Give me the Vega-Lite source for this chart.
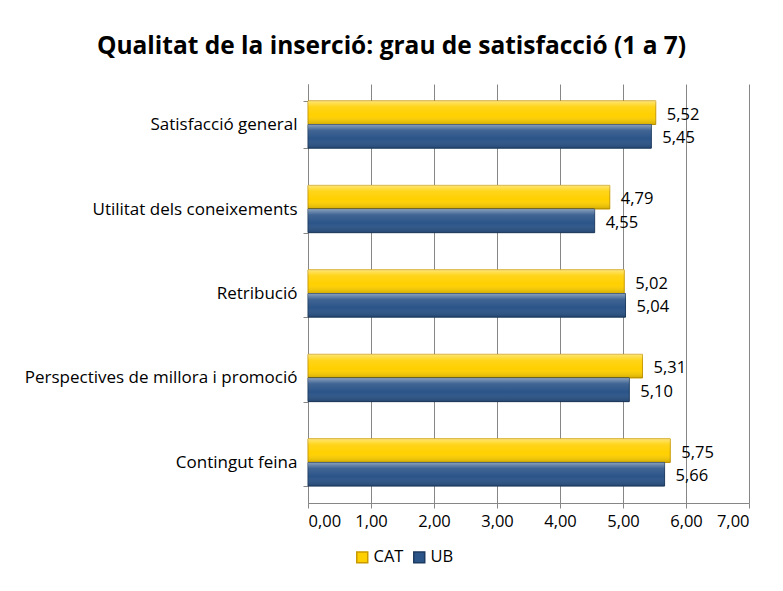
{
  "$schema": "https://vega.github.io/schema/vega-lite/v6.json",
  "width": 441,
  "height": 419,
  "autosize": {"type": "none"},
  "padding": {"left": 308, "top": 84, "right": 34, "bottom": 88},
  "background": "white",
  "title": {
    "text": "Qualitat de la inserció: grau de satisfacció (1 a 7)",
    "fontSize": 24.5,
    "font": "Open Sans",
    "fontWeight": "bold",
    "color": "black",
    "anchor": "middle",
    "dx": -137,
    "offset": 16
  },
  "data": {
    "values": [
      {"cat": "Satisfacció general", "serie": "CAT", "valor": 5.52},
      {"cat": "Satisfacció general", "serie": "UB", "valor": 5.45},
      {"cat": "Utilitat dels coneixements", "serie": "CAT", "valor": 4.79},
      {"cat": "Utilitat dels coneixements", "serie": "UB", "valor": 4.55},
      {"cat": "Retribució", "serie": "CAT", "valor": 5.02},
      {"cat": "Retribució", "serie": "UB", "valor": 5.04},
      {"cat": "Perspectives de millora i promoció", "serie": "CAT", "valor": 5.31},
      {"cat": "Perspectives de millora i promoció", "serie": "UB", "valor": 5.10},
      {"cat": "Contingut feina", "serie": "CAT", "valor": 5.75},
      {"cat": "Contingut feina", "serie": "UB", "valor": 5.66}
    ]
  },
  "encoding": {
    "y": {
      "field": "cat",
      "type": "nominal",
      "sort": null,
      "title": null,
      "scale": {"paddingInner": 0.44, "paddingOuter": 0.2},
      "axis": {
        "tickBand": "extent",
        "tickSize": 5,
        "tickColor": "#868686",
        "domainColor": "#868686",
        "labelFontSize": 17,
        "labelFont": "Open Sans",
        "labelColor": "black",
        "labelPadding": 6,
        "labelLimit": 0,
        "grid": false
      }
    },
    "yOffset": {"field": "serie", "type": "nominal", "sort": ["CAT", "UB"]},
    "x": {
      "field": "valor",
      "type": "quantitative",
      "title": null,
      "scale": {"domain": [0, 7], "nice": false},
      "axis": {
        "values": [0, 1, 2, 3, 4, 5, 6, 7],
        "labelExpr": "replace(format(datum.value, '.2f'), '.', ',')",
        "tickSize": 5,
        "tickColor": "#868686",
        "domainColor": "#868686",
        "gridColor": "#868686",
        "labelFontSize": 16.5,
        "labelFont": "Open Sans",
        "labelColor": "black",
        "labelPadding": 5
      }
    }
  },
  "layer": [
    {
      "mark": {"type": "bar", "strokeWidth": 1},
      "encoding": {
        "color": {
          "field": "serie",
          "type": "nominal",
          "scale": {"domain": ["CAT", "UB"], "range": ["#FFD000", "#2B5488"]},
          "legend": {
            "title": null,
            "orient": "none",
            "direction": "horizontal",
            "legendX": 46,
            "legendY": 465,
            "symbolType": "square",
            "symbolSize": 120,
            "labelFontSize": 16.5,
            "labelFont": "Open Sans",
            "labelColor": "black",
            "columnPadding": 6,
            "labelOffset": 3
          }
        },
        "stroke": {
          "field": "serie",
          "type": "nominal",
          "scale": {"domain": ["CAT", "UB"], "range": ["#C99A00", "#1D3A60"]},
          "legend": null
        }
      }
    },
    {
      "mark": {
        "type": "bar",
        "fill": {
          "gradient": "linear",
          "x1": 0, "y1": 0, "x2": 0, "y2": 1,
          "stops": [
            {"offset": 0, "color": "rgba(255,255,255,0.45)"},
            {"offset": 0.25, "color": "rgba(255,255,255,0.1)"},
            {"offset": 0.6, "color": "rgba(255,255,255,0)"},
            {"offset": 1, "color": "rgba(0,0,0,0.18)"}
          ]
        },
        "stroke": null
      },
      "encoding": {}
    },
    {
      "mark": {"type": "text", "align": "left", "baseline": "middle", "dx": 11, "dy": 2, "fontSize": 16.5, "font": "Open Sans", "color": "black"},
      "encoding": {
        "text": {"field": "valor", "type": "quantitative", "format": ".2f"}
      }
    }
  ],
  "config": {
    "locale": {"number": {"decimal": ",", "thousands": ".", "grouping": [3], "currency": ["", " €"]}},
    "view": {"stroke": null}
  }
}
